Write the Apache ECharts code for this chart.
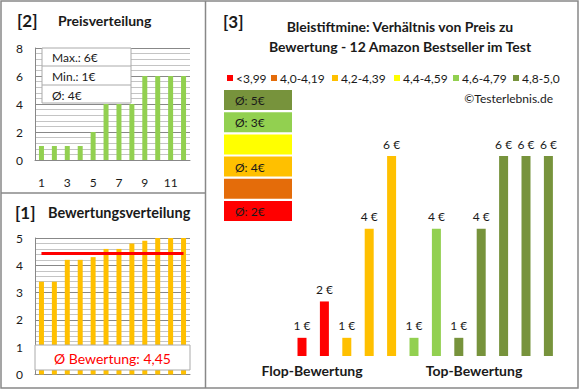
<!DOCTYPE html>
<html><head><meta charset="utf-8">
<script src="https://cdn.jsdelivr.net/npm/echarts@6/dist/echarts.min.js"></script>
<style>html,body{margin:0;padding:0;background:#fff}#c{width:580px;height:390px}</style>
</head><body><div id="c"></div>
<script>
// ---- data ----
const categories = ['1','2','3','4','5','6','7','8','9','10','11','12'];
const sortedPrices = [1,1,1,1,2,4,4,4,6,6,6,6];
const ratings = [3.4,3.4,4.2,4.2,4.3,4.6,4.6,4.8,4.9,5.0,5.0,5.0];
const prices = [1,2,1,4,6,1,4,1,4,6,6,6];
const legendLabels = ['<3,99','4,0-4,19','4,2-4,39','4,4-4,59','4,6-4,79','4,8-5,0'];
const bucketLower = [0,4.0,4.2,4.4,4.6,4.8];
const titleLines = ['Bleistiftmine: Verhältnis von Preis zu','Bewertung - 12 Amazon Bestseller im Test'];
const groupLabels = ['Flop-Bewertung','Top-Bewertung'];

// ---- styles ----
const bucketColors = ['#FF0000','#E46C0A','#FFC000','#FFFF00','#92D050','#77933C'];
const FONT = 'Lato, "Open Sans", sans-serif';
const TXT = '#1a1a1a';
const bucketOf = r => { let b = 0; bucketLower.forEach((l,i)=>{ if (r >= l - 1e-9) b = i; }); return b; };

const maxP = Math.max(...sortedPrices), minP = Math.min(...sortedPrices);
const avgP = Math.round(sortedPrices.reduce((a,b)=>a+b,0)/sortedPrices.length);
const avgR = ratings.reduce((a,b)=>a+b,0)/ratings.length;

const chart = echarts.init(document.getElementById('c'), null, {renderer:'svg'});
const majorLine = {show:true, lineStyle:{color:'#888', width:1}};
const minorLine = {show:true, lineStyle:{color:'#c4c4c4', width:1}};
const axisLbl = {color:TXT, fontSize:12, fontFamily:FONT};

const g = [];
function txt(x,y,text,opts){ g.push(Object.assign({type:'text', z:100, style:Object.assign({x,y,text,fill:TXT,font:'12px '+FONT,textVerticalAlign:'middle'}, opts||{})})); }
// frame
g.push({type:'rect', z:100, shape:{x:1,y:1,width:577,height:387}, style:{fill:'none',stroke:'#888',lineWidth:1.5}});
g.push({type:'line', z:100, shape:{x1:205.5,y1:1,x2:205.5,y2:388}, style:{stroke:'#888',lineWidth:1.5}});
g.push({type:'line', z:100, shape:{x1:1,y1:193,x2:205.5,y2:193}, style:{stroke:'#888',lineWidth:1.5}});
// panel titles
const BOLD = 'bold 14px '+FONT;
txt(17,20,'[2]',{font:'bold 17px '+FONT});
txt(58,20,'Preisverteilung',{font:BOLD});
txt(15,212,'[1]',{font:'bold 17px '+FONT});
txt(48,212,'Bewertungsverteilung',{font:'bold 14.5px '+FONT});
txt(223,21,'[3]',{font:'bold 17px '+FONT});
txt(400,26,titleLines[0],{font:BOLD, textAlign:'center'});
txt(400,46,titleLines[1],{font:BOLD, textAlign:'center'});
// panel 2 stats box
g.push({type:'rect', z:100, shape:{x:42,y:48,width:89,height:55}, style:{fill:'#fff',stroke:'#aaa',lineWidth:1}});
g.push({type:'line', z:100, shape:{x1:42,y1:66,x2:131,y2:66}, style:{stroke:'#aaa'}});
g.push({type:'line', z:100, shape:{x1:42,y1:85,x2:131,y2:85}, style:{stroke:'#aaa'}});
txt(52,57,'Max.: '+maxP+'€');
txt(52,76,'Min.: '+minP+'€');
txt(52,95,'Ø: '+avgP+'€');
// panel 1 average box
g.push({type:'rect', z:100, shape:{x:35,y:345,width:155,height:25}, style:{fill:'#fff',stroke:'#aaa',lineWidth:1}});
txt(112.5,358,'Ø Bewertung: '+avgR.toFixed(2).replace('.',','),{fill:'#FF0000',font:'14px '+FONT,textAlign:'center'});
// panel 3 legend
const legX = [227,271,332,394,453,513];
legendLabels.forEach((l,i)=>{
  g.push({type:'rect', z:100, shape:{x:legX[i],y:75,width:6,height:6}, style:{fill:bucketColors[i]}});
  txt(legX[i]+9,78,l);
});
txt(553,98,'©Testerlebnis.de',{textAlign:'right'});
// panel 3 average boxes
for (let k=0;k<6;k++){
  const b = 5-k;
  const ps = prices.filter((p,i)=>bucketOf(ratings[i])===b);
  const y = 90 + k*22.2;
  g.push({type:'rect', z:100, shape:{x:224,y:y,width:68,height:20}, style:{fill:bucketColors[b]}});
  if (ps.length) txt(235,y+10.5,'Ø: '+Math.round(ps.reduce((a,c)=>a+c,0)/ps.length)+'€');
}
txt(312,370,groupLabels[0],{font:BOLD,textAlign:'center'});
txt(474,370,groupLabels[1],{font:BOLD,textAlign:'center'});

chart.setOption({
  animation:false,
  grid:[
    {left:35, top:48, width:155, height:112},
    {left:35, top:238, width:155, height:136.5},
    {left:290.8, top:156, width:268.8, height:200}
  ],
  xAxis:[
    {type:'category', gridIndex:0, data:categories, axisTick:{show:false}, axisLine:{lineStyle:{color:'#888'}},
     axisLabel:Object.assign({interval:1, margin:16}, axisLbl)},
    {type:'category', gridIndex:1, data:categories, axisTick:{show:false}, axisLine:{lineStyle:{color:'#888'}}, axisLabel:{show:false}},
    {type:'category', gridIndex:2, data:categories, show:false}
  ],
  yAxis:[
    {type:'value', gridIndex:0, min:0, max:8, interval:2, axisLine:{show:true,lineStyle:{color:'#888'}},
     axisLabel:Object.assign({margin:12}, axisLbl), splitLine:majorLine, minorTick:{show:false, splitNumber:5}, minorSplitLine:minorLine},
    {type:'value', gridIndex:1, min:0, max:5, interval:1, axisLine:{show:true,lineStyle:{color:'#888'}},
     axisLabel:Object.assign({margin:12}, axisLbl), splitLine:majorLine, minorTick:{show:false, splitNumber:5}, minorSplitLine:minorLine},
    {type:'value', gridIndex:2, min:0.5, max:6, show:false, splitLine:{show:false}}
  ],
  series:[
    {type:'bar', xAxisIndex:0, yAxisIndex:0, data:sortedPrices, barWidth:5, itemStyle:{color:'#92D050'}},
    {type:'bar', xAxisIndex:1, yAxisIndex:1, data:ratings, barWidth:5, itemStyle:{color:'#FFC000'},
     markLine:{silent:true, symbol:['none','none'], label:{show:false}, lineStyle:{color:'#FF0000', width:3, type:'solid'},
       data:[[{coord:[categories[0], avgR]},{coord:[categories[categories.length-1], avgR]}]]}},
    {type:'bar', xAxisIndex:2, yAxisIndex:2, barWidth:9,
     data:prices.map((p,i)=>({value:p, itemStyle:{color:bucketColors[bucketOf(ratings[i])]}})),
     label:{show:true, position:'top', distance:6, formatter:'{c} €', color:TXT, fontSize:12, fontFamily:FONT}}
  ],
  graphic:g
});
</script></body></html>
